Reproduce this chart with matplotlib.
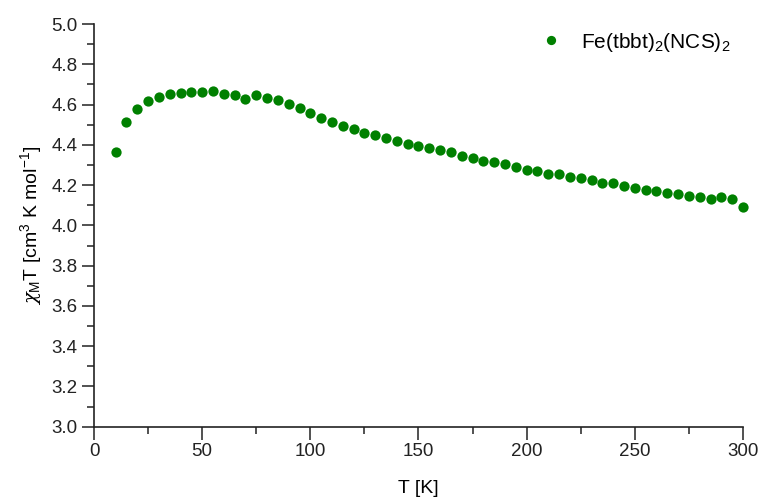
import matplotlib
matplotlib.use('Agg')
import matplotlib.pyplot as plt
from matplotlib.ticker import MultipleLocator, FormatStrFormatter

plt.rcParams['font.family'] = ['Liberation Sans', 'DejaVu Sans']
plt.rcParams['mathtext.fontset'] = 'custom'
plt.rcParams['mathtext.rm'] = 'Liberation Sans'
plt.rcParams['mathtext.it'] = 'DejaVu Serif:italic'

# temperatur (K) og chi_M*T (cm3 K mol-1)
temp = [10, 15, 20, 25, 30, 35, 40, 45, 50, 55, 60, 65, 70, 75, 80, 85, 90, 95,
        100, 105, 110, 115, 120, 125, 130, 135, 140, 145, 150, 155, 160, 165,
        170, 175, 180, 185, 190, 195, 200, 205, 210, 215, 220, 225, 230, 235,
        240, 245, 250, 255, 260, 265, 270, 275, 280, 285, 290, 295, 300]
chiT = [4.362, 4.514, 4.580, 4.619, 4.640, 4.655, 4.658, 4.663, 4.663, 4.665,
        4.653, 4.650, 4.627, 4.650, 4.635, 4.622, 4.602, 4.582, 4.558, 4.533,
        4.511, 4.494, 4.478, 4.461, 4.448, 4.434, 4.418, 4.405, 4.393, 4.382,
        4.373, 4.362, 4.343, 4.333, 4.318, 4.315, 4.303, 4.292, 4.277, 4.270,
        4.256, 4.254, 4.239, 4.234, 4.224, 4.212, 4.209, 4.194, 4.186, 4.177,
        4.169, 4.163, 4.157, 4.147, 4.139, 4.133, 4.139, 4.129, 4.093]

fig = plt.figure(figsize=(7.6, 5.01), dpi=100)
ax = fig.add_axes([0.1237, 0.1483, 0.8539, 0.8037])

ax.plot(temp, chiT, 'o', color='#008000', markersize=7.4, markeredgewidth=0,
        label=r'Fe(tbbt)$_2$(NCS)$_2$', clip_on=False)

ax.set_xlim(0, 300)
ax.set_ylim(3.0, 5.0)
ax.xaxis.set_major_locator(MultipleLocator(50))
ax.xaxis.set_minor_locator(MultipleLocator(25))
ax.yaxis.set_major_locator(MultipleLocator(0.2))
ax.yaxis.set_minor_locator(MultipleLocator(0.1))
ax.yaxis.set_major_formatter(FormatStrFormatter('%.1f'))

for s in ['top', 'right']:
    ax.spines[s].set_visible(False)
for s in ['left', 'bottom']:
    ax.spines[s].set_linewidth(1.2)
    ax.spines[s].set_color('#222222')

ax.tick_params(which='major', direction='out', length=9, width=1.1,
               labelsize=13.5, colors='#222222', pad=3)
ax.tick_params(which='minor', direction='out', length=5, width=1.1,
               colors='#222222')

ax.set_xlabel('T [K]', fontsize=14, labelpad=14)
ax.set_ylabel(r'$\chi_{\rm M}$T [cm$^3$ K mol$^{-1}$]', fontsize=14,
              labelpad=5)

ax.legend(loc='upper right', frameon=False, fontsize=15, handletextpad=0.45,
          markerscale=0.9, bbox_to_anchor=(1.01, 1.03))

fig.savefig('out.png', dpi=100)
